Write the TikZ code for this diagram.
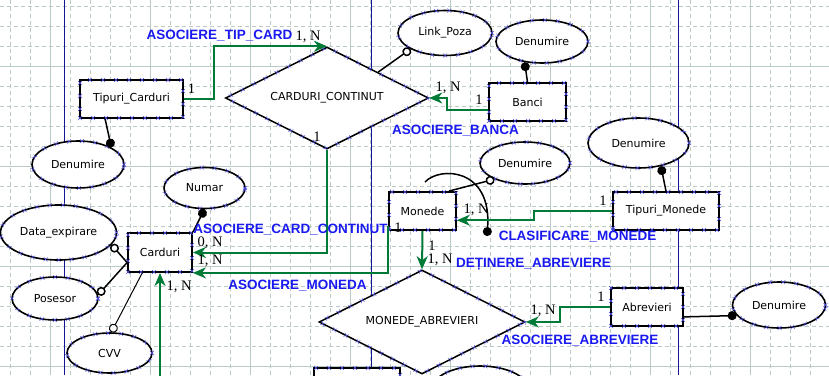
\documentclass[tikz,border=0pt]{standalone}
\usepackage{fontspec}
\setmainfont{Liberation Serif}
\newfontfamily\erfont{DejaVu Sans}
\newfontfamily\relfont{Liberation Sans}
\usetikzlibrary{shapes.geometric,arrows.meta,decorations.markings}

\definecolor{gridc}{RGB}{186,202,197}
\definecolor{pageln}{RGB}{20,20,150}
\definecolor{relgreen}{RGB}{0,122,55}
\definecolor{relblue}{RGB}{25,25,240}
\definecolor{handle}{RGB}{80,80,235}

\tikzset{
  handles/.style={postaction={decorate,decoration={markings,
      mark=between positions 0 and 1 step 13pt with {\draw[handle,line width=0.4pt] (-2pt,-2pt) -- (2pt,2pt) (-2pt,2pt) -- (2pt,-2pt);}}}},
  ent/.style={draw, fill=white, line width=1.8pt, inner sep=2pt, minimum height=38pt,
      font=\erfont\fontsize{11}{13}\selectfont, handles},
  atr/.style={ellipse, draw, fill=white, line width=1.6pt, inner sep=1pt,
      font=\erfont\fontsize{11}{13}\selectfont, handles},
  rel/.style={diamond, aspect=2, draw, fill=white, line width=1.5pt, inner sep=0pt,
      font=\erfont\fontsize{11}{13}\selectfont, handles},
  att/.style={draw, line width=1.5pt},
  dot/.style={-{Circle[length=9pt]}},
  ring/.style={-{Circle[open,length=9pt,fill=white]}},
  assoc/.style={draw=relgreen, line width=2pt, -{Stealth[length=13pt,width=11pt,inset=4pt]}},
  card/.style={inner sep=0pt, font=\fontsize{14.5}{15}\selectfont},
  lbl/.style={inner sep=0pt, text=relblue, font=\relfont\bfseries\fontsize{13.5}{15}\selectfont},
  gridln/.style={draw=gridc, line width=1pt, dash pattern=on 4pt off 3pt},
  gridmaj/.style={draw=gridc, line width=1pt},
}

\begin{document}
\begin{tikzpicture}[x=1pt,y=-1pt]
  \useasboundingbox (0,0) rectangle (829,375);
  \clip (0,0) rectangle (829,375);
  \fill[white] (0,0) rectangle (829,375);

  % sheet grid and page edges
  \foreach \gx in {10,30,...,830} \draw[gridln] (\gx,0) -- (\gx,375);
  \foreach \gy in {6,26,...,366} \draw[gridln] (0,\gy) -- (829,\gy);
  \foreach \gx in {50,150,...,750} \draw[gridmaj] (\gx,0) -- (\gx,375);
  \foreach \gy in {66,166,266,366} \draw[gridmaj] (0,\gy) -- (829,\gy);
  \draw[pageln, line width=0.9pt] (64,0) -- (64,375) (371,0) -- (371,375) (678,0) -- (678,375);

  % entities, attributes, relations
  \node[ent, minimum width=103pt] (tcard) at (131.5,99) {Tipuri\_Carduri};
  \node[atr, minimum width=92pt, minimum height=47pt] (tcden) at (78,164.5) {Denumire};
  \node[rel, minimum width=203pt, minimum height=102pt] (ccont) at (327,98) {CARDURI\_CONTINUT};
  \node[atr, minimum width=94pt, minimum height=45pt] (lpoza) at (445,33) {Link\_Poza};
  \node[atr, minimum width=92pt, minimum height=43pt] (bden) at (542,41.5) {Denumire};
  \node[ent, minimum width=77pt] (banci) at (527.5,102) {Banci};
  \node[atr, minimum width=81pt, minimum height=41pt] (numar) at (204.5,188) {Numar};
  \node[ent, minimum width=64pt, minimum height=39pt] (card) at (160,252.5) {Carduri};
  \node[atr, minimum width=116pt, minimum height=55pt] (dexp) at (58.5,232.5) {Data\_expirare};
  \node[atr, minimum width=86pt, minimum height=43pt] (poses) at (55,298.5) {Posesor};
  \node[atr, minimum width=85pt, minimum height=40pt] (cvv) at (109.5,353) {CVV};
  \node[atr, minimum width=90pt, minimum height=42pt] (mden) at (525,163) {Denumire};
  \node[ent, minimum width=67pt] (mon) at (422.5,211) {Monede};
  \node[atr, minimum width=101pt, minimum height=50pt] (tmden) at (638.5,143) {Denumire};
  \node[ent, minimum width=106pt] (tmon) at (666,211) {Tipuri\_Monede};
  \node[rel, minimum width=206pt, minimum height=104pt] (mabr) at (422,322) {MONEDE\_ABREVIERI};
  \node[ent, minimum width=72pt] (abr) at (647,307) {Abrevieri};
  \node[atr, minimum width=93pt, minimum height=46pt] (aden) at (779,305) {Denumire};
  \node[ent, minimum width=86pt] (ent9) at (357,387) {};
  \node[atr, minimum width=96pt, minimum height=46pt] (atr9) at (480,389) {};

  % attribute links
  \draw[att, dot] (tcard.217) -- (tcden.27);
  \draw[att, ring] (ccont.north east) -- (lpoza.205);
  \draw[att, dot] (banci.north) -- (bden.230);
  \draw[att, dot] (card.north east) -- (numar.south);
  \draw[att, ring] (card.197) -- (dexp.-13);
  \draw[att, ring] (card.197) -- (poses.5);
  \draw[att, ring, line width=1pt] (card.229) -- (cvv.85);
  \draw[att, ring] (mon.37) -- (mden.208);
  \draw[att, dot] (tmon.north) -- (tmden.314);
  \draw[att, dot] (abr.-15) -- (aden.194);
  \coordinate (arcs) at (425,182);
  \coordinate (arce) at (487,236);
  \draw[att, dot] (arcs) .. controls (440,166) and (492,168) .. (arce);

  % associations
  \coordinate (cbot) at (160,380);
  \draw[assoc] (tcard.east) -- ++(30,0) |- (ccont.north);
  \draw[assoc] (banci.192) -- ++(-41,0) |- (ccont.east);
  \draw[assoc] (ccont.south) |- (card.east);
  \draw[assoc] (mon.204) |- (card.south east);
  \draw[assoc] (cbot) -- (card.south);
  \draw[assoc] (mon.south) -- (mabr.north);
  \draw[assoc] (tmon.west) -- ++(-78,0) |- (mon.-15);
  \draw[assoc] (abr.west) -- ++(-50,0) |- (mabr.east);

  % cardinalities and association names
  \node[card] (k1) at (191.5,89) {1};
  \node[card] (k2) at (308,37) {1, N};
  \node[lbl] (n1) at (219.5,35.5) {ASOCIERE\_TIP\_CARD};
  \node[card] (k3) at (448,88) {1, N};
  \node[card] (k4) at (479,100) {1};
  \node[lbl] (n2) at (455.5,131) {ASOCIERE\_BANCA};
  \node[card] (k5) at (317,137) {1};
  \node[card] (k6) at (210,243) {0, N};
  \node[card] (k7) at (210,261) {1, N};
  \node[lbl] (n3) at (290.5,230) {ASOCIERE\_CARD\_CONTINUT};
  \node[lbl] (n4) at (297.5,286) {ASOCIERE\_MONEDA};
  \node[card] (k8) at (179,287) {1, N};
  \node[card] (k9) at (398,228) {1};
  \node[card] (k10) at (432,246) {1};
  \node[card] (k11) at (440,260) {1, N};
  \node[lbl] (n5) at (533.5,264) {DEȚINERE\_ABREVIERE};
  \node[card] (k12) at (476,210) {1, N};
  \node[card] (k13) at (603,201) {1};
  \node[lbl] (n6) at (577.5,236.5) {CLASIFICARE\_MONEDE};
  \node[card] (k14) at (543,311) {1, N};
  \node[card] (k15) at (601,297) {1};
  \node[lbl] (n7) at (580,341) {ASOCIERE\_ABREVIERE};
\end{tikzpicture}
\end{document}
